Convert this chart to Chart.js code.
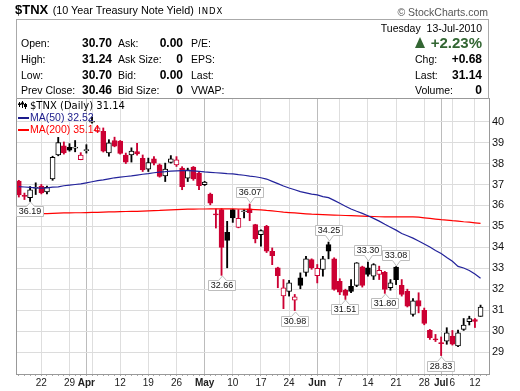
<!DOCTYPE html>
<html>
<head>
<meta charset="utf-8">
<script src="https://cdn.jsdelivr.net/npm/chart.js@4/dist/chart.umd.min.js"></script>
<style>
  body { margin: 0; background: #fff; }
  #wrap { position: relative; width: 520px; height: 391px; overflow: hidden; font-family: "Liberation Sans", Arial, sans-serif; color: #000; }
  canvas { position: absolute; left: 0; top: 0; }
  .t { position: absolute; white-space: nowrap; line-height: 14px; font-size: 10.5px; }
  .v { position: absolute; white-space: nowrap; line-height: 14px; font-size: 12px; font-weight: bold; text-align: right; }
  #panel { position: absolute; left: 16px; top: 19px; width: 471px; height: 79px; border: 1px solid #aaa; border-bottom: none; }
</style>
</head>
<body>
<div id="wrap">
  <canvas id="myChart" width="520" height="391"></canvas>

  <!-- header -->
  <div style="position:absolute;left:15px;top:1px;white-space:nowrap;line-height:16px">
    <span style="font-weight:bold;font-size:13px">$TNX</span>
    <span style="font-size:10.8px">(10 Year Treasury Note Yield)</span>
    <span style="font-family:'DejaVu Sans';font-size:8.5px;letter-spacing:1px">INDX</span>
  </div>
  <div class="t" style="right:32px;top:5px;color:#555;font-size:10.5px">© StockCharts.com</div>
  <div id="panel"></div>

  <div class="t" style="left:21px;top:36px">Open:</div>
  <div class="t" style="left:21px;top:52px">High:</div>
  <div class="t" style="left:21px;top:68px">Low:</div>
  <div class="t" style="left:21px;top:83px">Prev Close:</div>
  <div class="v" style="right:408px;top:36px">30.70</div>
  <div class="v" style="right:408px;top:52px">31.24</div>
  <div class="v" style="right:408px;top:68px">30.70</div>
  <div class="v" style="right:408px;top:83px">30.46</div>

  <div class="t" style="left:118px;top:36px">Ask:</div>
  <div class="t" style="left:118px;top:52px">Ask Size:</div>
  <div class="t" style="left:118px;top:68px">Bid:</div>
  <div class="t" style="left:118px;top:83px">Bid Size:</div>
  <div class="v" style="right:337px;top:36px">0.00</div>
  <div class="v" style="right:337px;top:52px">0</div>
  <div class="v" style="right:337px;top:68px">0.00</div>
  <div class="v" style="right:337px;top:83px">0</div>

  <div class="t" style="left:191px;top:36px">P/E:</div>
  <div class="t" style="left:191px;top:52px">EPS:</div>
  <div class="t" style="left:191px;top:68px">Last:</div>
  <div class="t" style="left:191px;top:83px">VWAP:</div>

  <div class="t" style="right:38px;top:21px">Tuesday&nbsp; 13-Jul-2010</div>
  <div style="position:absolute;left:415px;top:37px;width:0;height:0;border-left:5.5px solid transparent;border-right:5.5px solid transparent;border-bottom:11px solid #336633"></div>
  <div class="v" style="right:38px;top:34px;line-height:18px;font-size:15px;color:#336633">+2.23%</div>
  <div class="t" style="left:415px;top:52px">Chg:</div>
  <div class="t" style="left:415px;top:68px">Last:</div>
  <div class="t" style="left:415px;top:83px">Volume:</div>
  <div class="v" style="right:38px;top:52px">+0.68</div>
  <div class="v" style="right:38px;top:68px">31.14</div>
  <div class="v" style="right:38px;top:83px">0</div>
</div>

<script>
// trading days shown
const days = [
  'Mar 16','Mar 17','Mar 18','Mar 19','Mar 22','Mar 23','Mar 24','Mar 25','Mar 26','Mar 29','Mar 30','Mar 31',
  'Apr 1','Apr 5','Apr 6','Apr 7','Apr 8','Apr 9','Apr 12','Apr 13','Apr 14','Apr 15','Apr 16','Apr 19','Apr 20',
  'Apr 21','Apr 22','Apr 23','Apr 26','Apr 27','Apr 28','Apr 29','Apr 30',
  'May 3','May 4','May 5','May 6','May 7','May 10','May 11','May 12','May 13','May 14','May 17','May 18','May 19',
  'May 20','May 21','May 24','May 25','May 26','May 27','May 28',
  'Jun 1','Jun 2','Jun 3','Jun 4','Jun 7','Jun 8','Jun 9','Jun 10','Jun 11','Jun 14','Jun 15','Jun 16','Jun 17',
  'Jun 18','Jun 21','Jun 22','Jun 23','Jun 24','Jun 25','Jun 28','Jun 29','Jun 30',
  'Jul 1','Jul 2','Jul 6','Jul 7','Jul 8','Jul 9','Jul 12','Jul 13'
];

const open = [37.16,36.45,36.37,36.82,36.92,36.64,37.26,38.41,38.84,38.78,38.74,38.19,38.62,39.97,39.54,39.54,38.51,39.10,39.07,38.41,38.41,38.57,38.25,37.73,38.22,37.94,37.41,38.05,37.94,37.78,37.30,37.83,37.54,36.99,36.54,35.58,35.80,34.71,35.80,34.95,35.70,35.84,35.08,34.60,35.00,33.81,33.02,31.68,31.89,31.48,32.54,32.80,33.41,32.65,32.94,34.13,33.45,32.38,31.94,32.14,32.18,33.07,33.02,32.62,32.70,32.81,32.07,33.05,32.18,31.90,30.80,31.46,30.99,30.03,29.62,29.42,29.52,29.76,29.29,30.08,30.45,30.55,30.70];
const high = [37.20,36.59,36.90,37.08,37.00,36.92,38.35,39.25,39.03,38.95,39.10,38.52,38.90,40.22,39.78,39.70,39.14,39.26,39.10,38.50,38.75,38.97,38.41,38.26,38.33,37.98,38.02,38.38,38.33,37.85,37.78,37.86,37.60,37.15,36.59,35.83,35.85,35.24,35.82,35.80,35.80,36.07,35.10,34.84,35.05,33.97,33.05,32.46,32.42,31.75,32.78,33.57,33.45,33.18,33.57,34.25,33.50,32.50,32.00,32.46,33.27,33.10,33.30,33.22,33.10,32.85,32.46,33.08,32.46,32.00,31.55,31.83,31.10,30.08,29.84,29.72,30.16,30.03,30.05,30.60,30.71,30.60,31.24];
const low = [36.40,36.28,36.19,36.52,36.55,36.55,37.20,38.37,38.45,38.59,38.56,38.18,38.50,39.93,39.50,38.55,38.35,38.80,38.45,38.00,38.07,38.40,37.62,37.62,37.94,37.35,37.14,38.02,37.86,36.75,37.14,37.20,36.75,36.95,36.03,34.92,32.66,33.02,35.19,34.93,35.40,35.27,34.21,34.05,33.75,33.17,32.07,31.07,31.67,30.98,32.02,32.62,32.95,32.30,32.62,33.45,31.95,31.74,31.51,31.83,32.12,32.10,32.62,32.46,32.46,31.80,31.95,32.22,31.67,31.15,30.71,30.87,30.30,29.60,29.50,28.83,29.37,29.33,29.25,30.03,30.29,30.17,30.70];
const close = [36.50,36.43,36.75,36.84,36.60,36.86,38.30,39.00,38.51,38.64,38.76,38.40,38.64,39.99,39.70,38.59,38.99,38.83,38.48,38.07,38.60,38.46,37.70,38.05,38.02,37.38,37.73,38.22,38.18,36.90,37.70,37.27,36.94,37.11,36.11,35.55,34.00,34.33,35.40,35.38,35.72,35.66,34.40,34.80,33.81,33.60,32.65,32.07,32.30,31.64,32.18,33.45,33.02,33.00,33.45,33.81,31.99,31.86,31.70,31.89,33.26,32.18,32.70,33.18,32.90,31.99,32.30,32.46,31.75,31.19,31.45,31.19,30.37,29.69,29.58,29.40,29.92,29.37,29.92,30.29,30.60,30.46,31.14];
const priorClose = 37.05; // close of the day before the first candle

const ma50 = [36.90,36.88,36.86,36.84,36.83,36.84,36.87,36.89,36.94,36.97,37.00,37.03,37.08,37.13,37.18,37.22,37.27,37.32,37.35,37.38,37.41,37.45,37.49,37.52,37.56,37.59,37.61,37.64,37.65,37.66,37.66,37.65,37.63,37.60,37.58,37.56,37.54,37.52,37.51,37.47,37.44,37.40,37.37,37.32,37.26,37.15,37.04,36.93,36.83,36.75,36.66,36.60,36.54,36.50,36.42,36.37,36.24,36.10,35.96,35.83,35.72,35.62,35.51,35.38,35.25,35.10,34.96,34.82,34.66,34.55,34.44,34.30,34.16,34.01,33.85,33.70,33.51,33.33,33.09,33.01,32.89,32.72,32.52];
const ma200 = [35.59,35.59,35.60,35.60,35.61,35.61,35.62,35.63,35.64,35.64,35.65,35.65,35.66,35.67,35.67,35.68,35.69,35.69,35.70,35.71,35.72,35.72,35.73,35.74,35.75,35.76,35.78,35.79,35.80,35.81,35.82,35.82,35.83,35.83,35.84,35.84,35.84,35.84,35.84,35.83,35.82,35.81,35.80,35.79,35.76,35.74,35.71,35.68,35.66,35.64,35.62,35.60,35.58,35.57,35.56,35.55,35.54,35.53,35.52,35.51,35.50,35.49,35.48,35.47,35.46,35.45,35.45,35.45,35.45,35.45,35.45,35.44,35.41,35.38,35.35,35.32,35.30,35.27,35.25,35.22,35.20,35.17,35.14];

// x axis labels (week starts), month starts are bold
const xTickDays = ['Mar 22','Mar 29','Apr 1','Apr 5','Apr 12','Apr 19','Apr 26','May 3','May 10','May 17','May 24','Jun 1','Jun 7','Jun 14','Jun 21','Jun 28','Jul 1','Jul 6','Jul 12'];
const xTickText = ['22','29','Apr','','12','19','26','May','10','17','24','Jun','7','14','21','28','Jul','6','12'];
const monthDays = ['Apr 1','May 3','Jun 1','Jul 1'];
const yTicks = [29,30,31,32,33,34,35,36,37,38,39,40];

// high / low callouts
const calloutDays = ['Mar 18','May 6','May 13','May 25','Jun 3','Jun 8','Jun 14','Jun 17','Jun 21','Jul 1'];
const calloutSide = ['low','low','high','low','high','low','high','low','high','low'];

const RED = '#cc0033';
const BLACK = '#000000';
const candleColor = close.map((c, i) => c < (i ? close[i - 1] : priorClose) ? RED : BLACK);
const bodyFill = close.map((c, i) => c > open[i] ? '#ffffff' : candleColor[i]);

const labels = days.concat(['']);
const weekIdx = xTickDays.map(d => days.indexOf(d));
const monthIdx = monthDays.map(d => days.indexOf(d));

const framePlugin = {
  id: 'stockFrame',
  afterDatasetsDraw(chart) {
    const { ctx, chartArea: a, scales } = chart;
    const xs = scales.x, ys = scales.y;
    ctx.save();

    // top + left border of the price panel
    ctx.strokeStyle = '#999';
    ctx.lineWidth = 1;
    ctx.beginPath();
    ctx.moveTo(a.left + 0.5, a.bottom);
    ctx.lineTo(a.left + 0.5, a.top + 0.5);
    ctx.lineTo(a.right, a.top + 0.5);
    ctx.stroke();

    // legend
    ctx.fillStyle = '#000';
    [[19, 102, 107, 103.5, 105], [22, 101, 108, 102.5, 104.5], [25, 103, 109, 104, 107]].forEach(b => {
      ctx.fillRect(b[0], b[1], 1, b[2] - b[1]);
      ctx.fillRect(b[0] - 1, b[3], 3, b[4] - b[3]);
    });
    ctx.font = '10px "DejaVu Sans"';
    ctx.textBaseline = 'middle';
    ctx.textAlign = 'left';
    ctx.fillText('$TNX (Daily) ' + close[close.length - 1].toFixed(2), 30, 106);
    ctx.font = '10.5px "Liberation Sans"';
    ctx.fillStyle = '#1c1c8c';
    ctx.fillRect(18, 117, 11, 2);
    ctx.fillText('MA(50) ' + ma50[ma50.length - 1].toFixed(2), 30, 118);
    ctx.fillStyle = '#ff0000';
    ctx.fillRect(18, 129, 11, 2);
    ctx.fillText('MA(200) ' + ma200[ma200.length - 1].toFixed(2), 30, 130);

    // callouts
    ctx.font = '9px "Liberation Sans"';
    ctx.textAlign = 'center';
    calloutDays.forEach((d, k) => {
      const i = days.indexOf(d);
      const isLow = calloutSide[k] === 'low';
      const v = isLow ? low[i] : high[i];
      const px = Math.round(xs.getPixelForValue(i));
      const py = Math.round(ys.getPixelForValue(v));
      const txt = v.toFixed(2);
      const w = Math.round(ctx.measureText(txt).width) + 4;
      const h = 10;
      const x0 = px - Math.round(w / 2) + 0.5;
      const y0 = isLow ? py + 5 + 0.5 : py - 7 - h + 0.5;
      const edge = isLow ? y0 : y0 + h;
      const tip = isLow ? py + 1 : py - 1;
      ctx.beginPath();
      ctx.moveTo(x0, edge);
      ctx.lineTo(px + 0.5 - 4, edge);
      ctx.lineTo(px + 0.5, tip);
      ctx.lineTo(px + 0.5 + 4, edge);
      ctx.lineTo(x0 + w, edge);
      ctx.lineTo(x0 + w, isLow ? y0 + h : y0);
      ctx.lineTo(x0, isLow ? y0 + h : y0);
      ctx.closePath();
      ctx.fillStyle = '#fff';
      ctx.fill();
      ctx.strokeStyle = '#bdbdbd';
      ctx.stroke();
      ctx.fillStyle = '#111';
      ctx.fillText(txt, x0 + w / 2, y0 + h / 2 + 0.5);
    });
    ctx.restore();
  }
};

const ctx = document.getElementById('myChart').getContext('2d');
const myChart = new Chart(ctx, {
  type: 'bar',
  data: {
    labels: labels,
    datasets: [
      {
        type: 'line',
        label: 'MA(50)',
        data: ma50,
        borderColor: '#23239b',
        borderWidth: 1.2,
        pointRadius: 0,
        tension: 0,
        order: 0,
      },
      {
        type: 'line',
        label: 'MA(200)',
        data: ma200,
        borderColor: '#ff0000',
        borderWidth: 1.2,
        pointRadius: 0,
        tension: 0,
        order: 0,
      },
      {
        label: 'body',
        data: open.map((o, i) => [Math.min(o, close[i]), Math.max(o, close[i])]),
        backgroundColor: bodyFill,
        borderColor: candleColor,
        borderWidth: 1,
        borderSkipped: false,
        barThickness: 5,
        minBarLength: 1,
        grouped: false,
        order: 1,
      },
      {
        label: 'wick',
        data: low.map((l, i) => [l, high[i]]),
        backgroundColor: candleColor,
        borderWidth: 0,
        barThickness: 1.2,
        minBarLength: 1,
        grouped: false,
        order: 2,
      },
    ],
  },
  options: {
    responsive: false,
    animation: false,
    devicePixelRatio: 1,
    layout: { padding: { left: 16, top: 98, right: 0, bottom: 0 } },
    plugins: {
      legend: { display: false },
      tooltip: { enabled: false },
    },
    scales: {
      x: {
        type: 'category',
        offset: true,
        afterFit: (s) => { s.height = 17; },
        border: { color: '#999' },
        grid: {
          offset: false,
          color: (c) => monthIdx.includes(c.index) ? '#bcbcbc' : (weekIdx.includes(c.index) ? '#dedede' : 'rgba(0,0,0,0)'),
          tickColor: '#aaa',
          tickLength: 2,
        },
        ticks: {
          autoSkip: false,
          maxRotation: 0,
          minRotation: 0,
          padding: 1,
          color: '#222',
          font: (c) => ({ family: '"Liberation Sans"', size: 10, weight: monthIdx.includes(c.index) ? 'bold' : 'normal' }),
          callback: (value, index) => {
            const k = weekIdx.indexOf(index);
            return k >= 0 ? xTickText[k] : '';
          },
        },
      },
      y: {
        position: 'right',
        min: 27.95,
        max: 41.13,
        afterFit: (s) => { s.width = 31; },
        afterBuildTicks: (s) => { s.ticks = yTicks.map(v => ({ value: v })); },
        border: { color: '#999' },
        grid: { color: '#dcdcdc', drawTicks: false },
        ticks: {
          padding: 3,
          color: '#111',
          font: { family: '"Liberation Sans"', size: 11 },
        },
      },
    },
  },
  plugins: [framePlugin],
});
</script>
</body>
</html>
